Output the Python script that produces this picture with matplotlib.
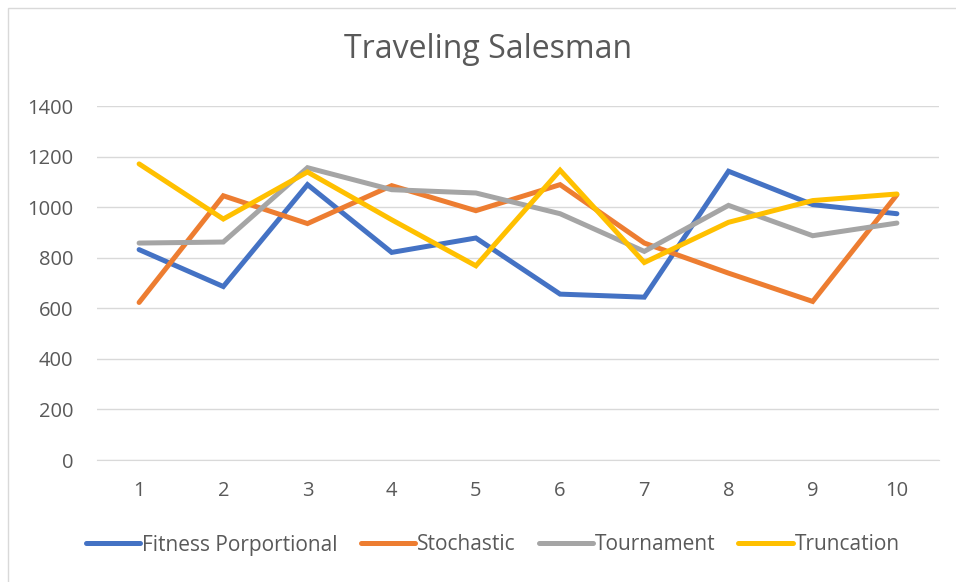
import matplotlib.pyplot as plt
from matplotlib.patches import Rectangle

plt.rcParams['font.family'] = ['Open Sans', 'DejaVu Sans']

# data
generations = [1, 2, 3, 4, 5, 6, 7, 8, 9, 10]
fitness_prop = [832, 686, 1089, 821, 878, 656, 644, 1142, 1010, 974]
stochastic = [623, 1045, 935, 1085, 986, 1089, 858, 739, 627, 1049]
tournament = [858, 862, 1156, 1069, 1056, 974, 825, 1007, 887, 937]
truncation = [1171, 953, 1139, 950, 768, 1146, 781, 940, 1026, 1052]

series = [
    ("Fitness Porportional", fitness_prop, "#4472C4"),
    ("Stochastic", stochastic, "#ED7D31"),
    ("Tournament", tournament, "#A5A5A5"),
    ("Truncation", truncation, "#FFC000"),
]

fig = plt.figure(figsize=(9.56, 5.82), dpi=100)
fig.patch.set_facecolor("white")

# chart area border (Excel style)
fig.patches.append(Rectangle((8 / 956, -0.1), 1.1, 1 - 8 / 582 + 0.1,
                             transform=fig.transFigure, fill=False,
                             edgecolor="#D9D9D9", linewidth=1))

ax = fig.add_axes([97 / 956, 1 - 460 / 582, (939 - 97) / 956, (460 - 106) / 582])

for name, vals, col in series:
    ax.plot(generations, vals, color=col, linewidth=3.6, label=name,
            solid_capstyle="round", solid_joinstyle="miter")

ax.set_xlim(0.5, 10.5)
ax.set_ylim(0, 1400)
ax.set_yticks(range(0, 1401, 200))
ax.set_xticks(generations)
ax.grid(axis="y", color="#D9D9D9", linewidth=1)
ax.set_axisbelow(True)
for s in ["top", "right", "left"]:
    ax.spines[s].set_visible(False)
ax.spines["bottom"].set_color("#D9D9D9")
ax.tick_params(length=0, labelsize=14.5, labelcolor="#595959")
ax.tick_params(axis="x", pad=15)
ax.tick_params(axis="y", pad=17)

fig.text(488 / 956, 1 - 50 / 582, "Traveling Salesman", ha="center", va="center",
         fontsize=23, color="#595959")

fig.legend(loc="center", bbox_to_anchor=(493 / 956, 1 - 545 / 582), ncol=4,
           frameon=False, fontsize=15, labelcolor="#595959",
           handlelength=2.6, handletextpad=0.1, columnspacing=1.1)

fig.savefig("out.png", dpi=100)
